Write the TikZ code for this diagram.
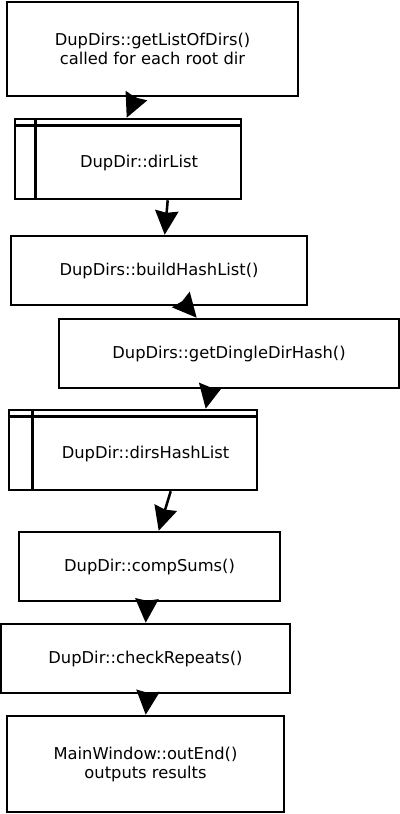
\documentclass[tikz,border=0pt]{standalone}
\usepackage{fontspec}
\setmainfont{DejaVu Sans}
\usetikzlibrary{arrows.meta, calc}

\begin{document}
\begin{tikzpicture}[
  x=0.025cm, y=-0.025cm,
  font=\fontsize{11.6}{13.5}\selectfont,
  every node/.style={inner sep=2pt},
  box/.style={draw, line width=1.8pt, align=center},
  listbox/.style={draw, line width=1.8pt},
  flow/.style={-{Stealth[length=0.6cm, width=0.58cm, inset=0.05cm]}, line width=1.8pt},
]

% ── Canvas ────────────────────────────────────────────────────────────────────
\useasboundingbox (0,0) rectangle (400,814);

% ── Boxes (centres and sizes read off the layout, in px) ──────────────────────
\node[box, minimum width=7.275cm, minimum height=2.35cm] (getdirs) at (152.5,49)
  {DupDirs::getListOfDirs()\\called for each root dir};

\node[listbox, minimum width=5.65cm, minimum height=2cm] (dirlist) at (128,159) {};
\node (dirlistT) at ($(dirlist.center)+(11,4)$) {DupDir::dirList};

\node[box, minimum width=7.4cm, minimum height=1.725cm] (buildhash) at (159,270.5)
  {DupDirs::buildHashList()};

\node[box, minimum width=8.5cm, minimum height=1.725cm] (singlehash) at (229,353.5)
  {DupDirs::getDingleDirHash()};

\node[listbox, minimum width=6.2cm, minimum height=2cm] (hashlist) at (133,450) {};
\node (hashlistT) at ($(hashlist.center)+(12.5,4)$) {DupDir::dirsHashList};

\node[box, minimum width=6.525cm, minimum height=1.725cm] (compsums) at (149.5,566.5)
  {DupDir::compSums()};

\node[box, minimum width=7.225cm, minimum height=1.725cm] (repeats) at (145.5,658.5)
  {DupDir::checkRepeats()};

\node[box, minimum width=6.925cm, minimum height=2.4cm] (outend) at (145.5,764)
  {MainWindow::outEnd()\\outputs results};

% ── List markers (header rule + side rule) ────────────────────────────────────
\draw[line width=1.8pt] ($(dirlist.north west)+(0,8)$) -- ($(dirlist.north east)+(0,8)$);
\draw[line width=1.8pt] ($(dirlist.north west)+(22,0)$) -- ($(dirlist.south west)+(22,0)$);
\draw[line width=1.8pt] ($(hashlist.north west)+(0,8)$) -- ($(hashlist.north east)+(0,8)$);
\draw[line width=1.8pt] ($(hashlist.north west)+(25,0)$) -- ($(hashlist.south west)+(25,0)$);

% ── Flow arrows ───────────────────────────────────────────────────────────────
\draw[flow] ($(getdirs.south west)+(130,0)$)   -- ($(dirlist.north west)+(113,0)$);
\draw[flow] ($(dirlist.south west)+(154,0)$)   -- ($(buildhash.north west)+(155,0)$);
\draw[flow] ($(buildhash.south west)+(177,0)$) -- ($(singlehash.north west)+(139,0)$);
\draw[flow] ($(singlehash.south west)+(152,0)$) -- ($(hashlist.north west)+(198,0)$);
\draw[flow] ($(hashlist.south west)+(163,0)$)  -- ($(compsums.north west)+(141,0)$);
\draw[flow] ($(compsums.south west)+(129,0)$)  -- ($(repeats.north west)+(146,0)$);
\draw[flow] ($(repeats.south west)+(148,0)$)   -- ($(outend.north west)+(140,0)$);

\end{tikzpicture}
\end{document}
